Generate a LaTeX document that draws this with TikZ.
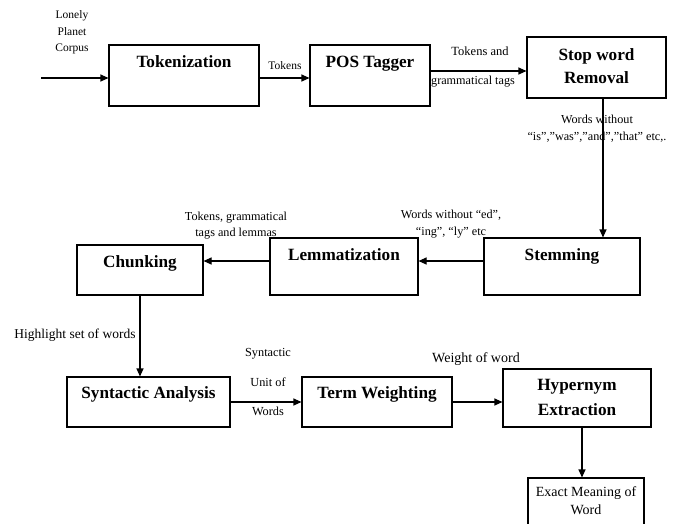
\documentclass[tikz,border=0pt]{standalone}
\usepackage{fontspec}
\setmainfont{Liberation Serif}
\usetikzlibrary{arrows.meta}
\tikzset{
  box/.style={draw=black, line width=1.1pt, inner sep=0pt},
  ttl/.style={font=\fontsize{17.2}{19}\selectfont\bfseries, inner sep=0pt, anchor=base},
  lbl/.style={font=\fontsize{12.2}{13}\selectfont, inner sep=0pt, anchor=base},
  arr/.style={draw=black, line width=1.1pt, -{Triangle[length=8pt,width=7pt]}},
}
\newcommand{\fsz}[1]{\fontsize{#1}{#1}\selectfont}
\begin{document}
\begin{tikzpicture}[x=1pt,y=-1pt]
\clip (0,0) rectangle (673,523);
\useasboundingbox (0,0) rectangle (673,523);
% boxes
\node[box, minimum width=150pt, minimum height=61pt] (tok) at (184,75.5) {};
\node[box, minimum width=120pt, minimum height=61pt] (pos) at (370,75.5) {};
\node[box, minimum width=139pt, minimum height=61pt] (stop) at (596.5,67.5) {};
\node[box, minimum width=156pt, minimum height=57pt] (stem) at (562,266.5) {};
\node[box, minimum width=148pt, minimum height=57pt] (lem) at (344,266.5) {};
\node[box, minimum width=126pt, minimum height=50pt] (chunk) at (140,270) {};
\node[box, minimum width=163pt, minimum height=50pt] (syn) at (148.5,402) {};
\node[box, minimum width=150pt, minimum height=50pt] (term) at (377,402) {};
\node[box, minimum width=148pt, minimum height=58pt] (hyp) at (577,398) {};
\node[box, minimum width=116pt, minimum height=56pt] (exact) at (586,506) {};
% titles
\node[ttl] (tokT) at (184,67.7) {Tokenization};
\node[ttl] (posT) at (370,67.7) {POS Tagger};
\node[ttl] (stopT1) at (596.5,60) {Stop word};
\node[ttl] (stopT2) at (596.5,83) {Removal};
\node[ttl] (stemT) at (562,260.7) {Stemming};
\node[ttl] (lemT) at (344,260.7) {Lemmatization};
\node[ttl] (chunkT) at (140,267.7) {Chunking};
\node[ttl] (synT) at (148.5,398) {Syntactic Analysis};
\node[ttl] (termT) at (377,398) {Term Weighting};
\node[ttl] (hypT1) at (577,390.7) {Hypernym};
\node[ttl] (hypT2) at (577,415) {Extraction};
\node[lbl, font=\fsz{14}] (exT1) at (586,496.7) {Exact Meaning of};
\node[lbl, font=\fsz{14}] (exT2) at (586,514) {Word};
% labels
\node[lbl, font=\fsz{11.5}] (l1) at (72,18.3) {Lonely};
\node[lbl, font=\fsz{11.5}] (l2) at (72,35) {Planet};
\node[lbl, font=\fsz{11.5}] (l3) at (72,51) {Corpus};
\node[lbl, font=\fsz{11.5}] (tk) at (285,69) {Tokens};
\node[lbl, font=\fsz{12.5}] (ta1) at (480,55.7) {Tokens and};
\node[lbl] (ta2) at (473,84.3) {grammatical tags};
\node[lbl] (ww1) at (597,123.3) {Words without};
\node[lbl] (ww2) at (597,140) {“is”,”was”,”and”,”that” etc,.};
\node[lbl] (tg1) at (236,220) {Tokens, grammatical};
\node[lbl] (tg2) at (236,236) {tags and lemmas};
\node[lbl] (we1) at (451,218) {Words without “ed”,};
\node[lbl] (we2) at (451,235) {“ing”, “ly” etc};
\node[lbl, font=\fsz{13.5}] (hs) at (75,338.3) {Highlight set of words};
\node[lbl, font=\fsz{12.3}] (su1) at (268,356.7) {Syntactic};
\node[lbl, font=\fsz{12.3}] (su2) at (268,386.7) {Unit of};
\node[lbl, font=\fsz{12.3}] (su3) at (268,415.7) {Words};
\node[lbl, font=\fsz{14}] (wo) at (476,362.3) {Weight of word};
% connectors
\coordinate (in) at (41,78);
\draw[arr] (in) -- (in -| tok.west);
\draw[arr] (tok.east |- in) -- (pos.west |- in);
\draw[arr] ([yshift=4.5pt]pos.east) -- ([yshift=4.5pt]pos.east -| stop.west);
\draw[arr] ([xshift=6.5pt]stop.south) -- ([xshift=6.5pt]stop.south |- stem.north);
\draw[arr] ([yshift=5.5pt]stem.west) -- ([yshift=5.5pt]lem.east);
\draw[arr] ([yshift=5.5pt]lem.west) -- ([yshift=5.5pt]lem.west -| chunk.east);
\draw[arr] (chunk.south) -- (chunk.south |- syn.north);
\draw[arr] (syn.east) -- (term.west);
\draw[arr] (term.east) -- (term.east -| hyp.west);
\draw[arr] ([xshift=5pt]hyp.south) -- ([xshift=5pt]hyp.south |- exact.north);
\end{tikzpicture}
\end{document}
